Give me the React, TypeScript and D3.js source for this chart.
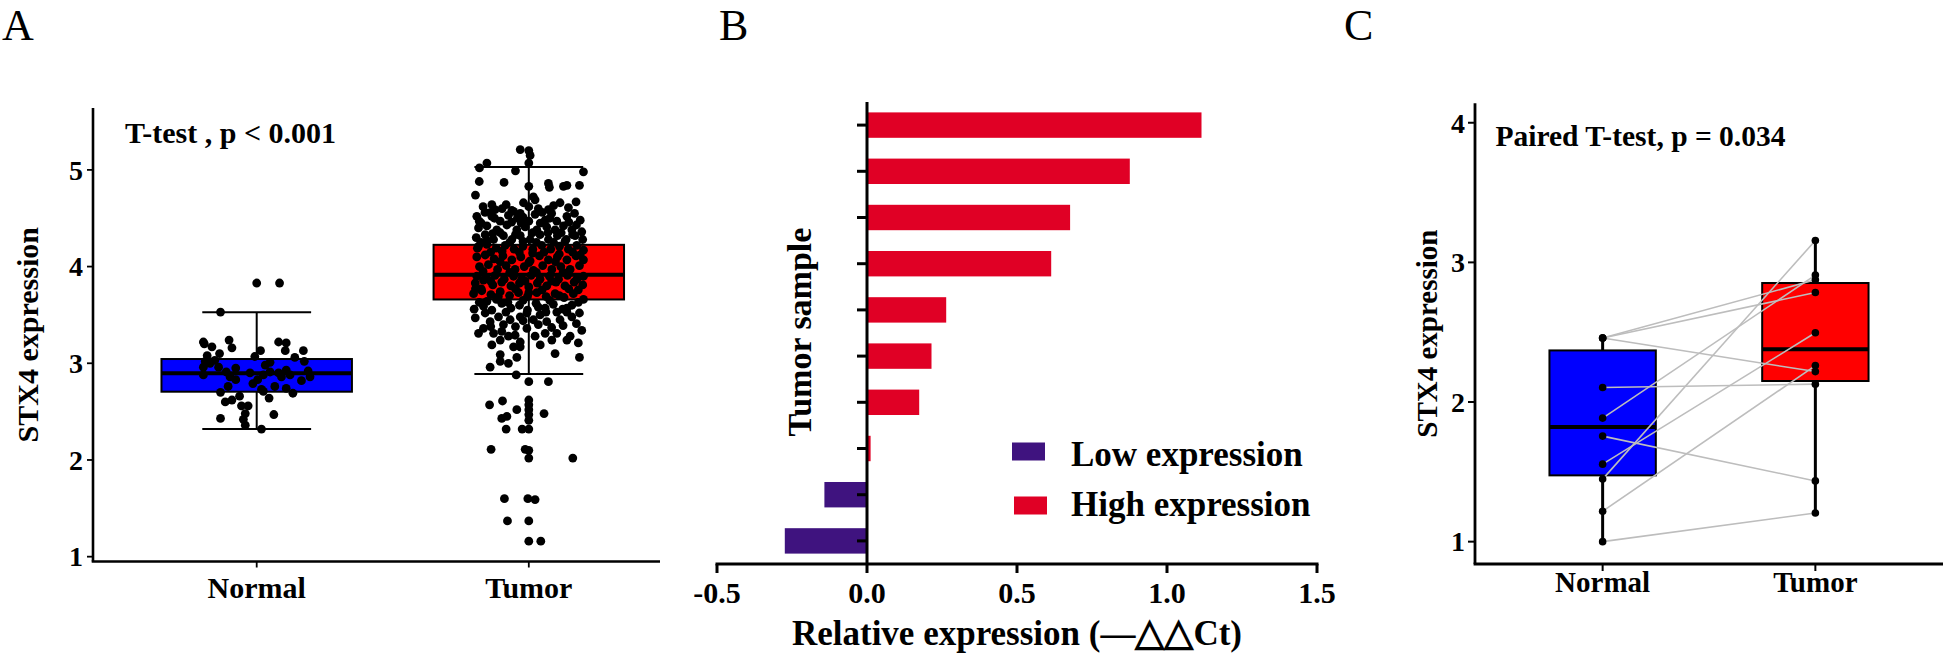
import React from 'react';
import * as d3 from 'd3';

const FONT = '"Liberation Serif", "Times New Roman", Times, serif';

// ---------------- Panel A data ----------------
const groupsA = ['Normal', 'Tumor'];
const ticksA = [1, 2, 3, 4, 5];
const whiskerLowA = [2.32, 2.89];
const q1A = [2.706, 3.66];
const medianA = [2.897, 3.915];
const q3A = [3.044, 4.225];
const whiskerHighA = [3.527, 5.03];
const boxColorsA = ['#0000ff', '#ff0000'];
// [jitter (fraction of box width), value]
const normalPointsA: [number, number][] = [
  [0, 3.83], [0.12, 3.83], [-0.19, 3.53], [-0.28, 3.22], [-0.275, 3.2], [-0.235, 3.17], [-0.145, 3.24],
  [-0.13, 3.16], [-0.195, 3.1], [-0.26, 3.08], [-0.27, 3.02], [-0.28, 2.96], [-0.28, 2.88], [-0.22, 3.03],
  [-0.2, 2.96], [-0.16, 2.91], [-0.11, 2.95], [-0.14, 2.86], [-0.035, 2.9], [-0.01, 3.07], [0.02, 3.13],
  [0.045, 2.98], [0.07, 3.01], [0.035, 2.88], [-0.02, 2.79], [-0.15, 2.76], [-0.19, 2.7], [-0.165, 2.6],
  [-0.13, 2.62], [-0.09, 2.66], [-0.08, 2.56], [-0.045, 2.56], [-0.06, 2.48], [-0.07, 2.42], [-0.06, 2.36],
  [0.025, 2.32], [-0.19, 2.43], [0.09, 2.47], [0.035, 2.71], [0.065, 2.64], [0.095, 2.76], [0.155, 2.74],
  [0.19, 2.69], [0.115, 3.22], [0.155, 3.21], [0.15, 3.13], [0.2, 3.06], [0.245, 3.13], [0.25, 3.02],
  [0.27, 2.92], [0.28, 2.86], [0.235, 2.82], [0.155, 2.93], [0.175, 2.88], [0.13, 2.86], [0.115, 2.9],
  [0.025, 2.73], [0.005, 2.83], [-0.245, 3.0], [-0.11, 2.83], [0.07, 2.91],
];
const tumorPointsA: [number, number][] = [
  [-0.045, 5.21], [0, 5.2], [0.007, 5.15], [0, 5.07], [-0.259, 5.02], [-0.22, 5.07], [-0.07, 4.99], [0.287, 4.98],
  [-0.26, 4.88], [-0.13, 4.87], [0, 4.83], [0.103, 4.86], [0.108, 4.82], [0.182, 4.83], [0.2, 4.84], [0.266, 4.84],
  [-0.28, 4.74], [0.024, 4.72], [0.033, 4.69],
  [-0.194, 4.64], [-0.177, 4.59], [-0.119, 4.64], [-0.089, 4.58], [-0.028, 4.66], [0.103, 4.59], [0.164, 4.66],
  [0.208, 4.61], [0.248, 4.67], [0.05, 4.6],
  [-0.273, 4.52], [-0.194, 4.52], [-0.107, 4.53], [-0.045, 4.55], [0.033, 4.54], [0.086, 4.48], [0.2, 4.52],
  [0.27, 4.48], [-0.15, 4.47], [0, 4.47], [0.147, 4.47],
  [-0.264, 4.4], [-0.22, 4.42], [-0.168, 4.38], [-0.115, 4.43], [-0.063, 4.38], [-0.019, 4.41], [0.042, 4.38],
  [0.094, 4.41], [0.138, 4.38], [0.182, 4.42], [0.226, 4.38], [0.278, 4.36],
  [-0.276, 4.3], [-0.229, 4.33], [-0.185, 4.28], [-0.133, 4.32], [-0.089, 4.28], [-0.045, 4.32], [0.007, 4.28],
  [0.059, 4.33], [0.103, 4.28], [0.15, 4.32], [0.196, 4.28], [0.243, 4.32], [0.283, 4.28],
  [-0.264, 4.21], [-0.22, 4.23], [-0.171, 4.19], [-0.124, 4.22], [-0.077, 4.18], [-0.031, 4.21], [0.021, 4.18],
  [0.068, 4.22], [0.115, 4.18], [0.161, 4.21], [0.208, 4.18], [0.252, 4.22], [0.287, 4.17],
  [-0.273, 4.1], [-0.229, 4.12], [-0.182, 4.08], [-0.136, 4.11], [-0.089, 4.07], [-0.042, 4.1], [0.007, 4.06],
  [0.056, 4.11], [0.103, 4.07], [0.15, 4.1], [0.2, 4.07], [0.248, 4.11], [0.287, 4.07],
  [-0.259, 4.0], [-0.212, 4.02], [-0.164, 3.97], [-0.119, 4.01], [-0.072, 3.97], [-0.024, 4.0], [0.024, 3.96],
  [0.073, 4.01], [0.121, 3.97], [0.168, 4.0], [0.217, 3.97], [0.266, 4.01],
  [-0.273, 3.9], [-0.224, 3.88], [-0.177, 3.91], [-0.129, 3.87], [-0.08, 3.9], [-0.037, 3.87], [0.012, 3.91],
  [0.059, 3.87], [0.108, 3.9], [0.156, 3.87], [0.203, 3.91], [0.252, 3.87], [0.287, 3.9],
  [-0.281, 3.83], [-0.238, 3.86], [-0.189, 3.81], [-0.142, 3.84], [-0.094, 3.8], [-0.049, 3.83], [0, 3.79],
  [0.045, 3.83], [0.094, 3.8], [0.143, 3.84], [0.19, 3.8], [0.238, 3.84], [0.283, 3.81],
  [-0.29, 3.72], [-0.247, 3.75], [-0.199, 3.71], [-0.15, 3.74], [-0.101, 3.7], [-0.054, 3.73], [-0.007, 3.69],
  [0.042, 3.73], [0.091, 3.69], [0.138, 3.72], [0.185, 3.68], [0.234, 3.72], [0.287, 3.66],
  [-0.287, 3.56], [-0.238, 3.59], [-0.194, 3.55], [-0.142, 3.62], [-0.094, 3.57], [-0.049, 3.6], [-0.007, 3.55],
  [0.038, 3.62], [0.086, 3.57], [0.129, 3.61], [0.178, 3.56], [0.226, 3.6], [0.266, 3.52],
  [-0.281, 3.47], [-0.229, 3.52], [-0.203, 3.43], [-0.159, 3.48], [-0.133, 3.4], [-0.098, 3.45], [-0.045, 3.48],
  [-0.01, 3.52], [0.024, 3.45], [0.059, 3.5], [0.094, 3.43], [0.147, 3.53], [0.164, 3.45], [0.2, 3.53], [0.226, 3.48],
  [-0.264, 3.31], [-0.238, 3.36], [-0.185, 3.31], [-0.142, 3.33], [-0.107, 3.28], [-0.072, 3.29], [-0.045, 3.22],
  [-0.01, 3.36], [0.033, 3.28], [0.086, 3.31], [0.121, 3.24], [0.147, 3.31], [0.2, 3.24], [0.217, 3.28],
  [0.278, 3.34], [0.26, 3.21],
  [-0.194, 3.19], [-0.15, 3.24], [-0.08, 3.17], [-0.045, 3.17], [-0.15, 3.09], [-0.063, 3.06], [-0.107, 3.0],
  [-0.15, 3.02], [0.138, 3.1], [0.266, 3.06], [0.06, 3.19],
  [-0.203, 2.96], [-0.066, 2.88], [0, 2.81], [0.103, 2.81],
  [-0.206, 2.57], [-0.138, 2.61], [-0.063, 2.52], [0, 2.62], [0, 2.57], [0, 2.52], [0, 2.47], [0, 2.41],
  [0.08, 2.48], [-0.142, 2.43], [-0.115, 2.45], [-0.119, 2.32], [-0.035, 2.32], [0, 2.32], [-0.198, 2.11],
  [-0.019, 2.11], [0, 2.1], [0, 2.02], [0.231, 2.02], [-0.128, 1.6], [-0.005, 1.6], [0.033, 1.59],
  [-0.112, 1.37], [0, 1.37], [0, 1.16], [0.063, 1.16],
  [-0.2, 4.56], [-0.06, 4.5], [0.12, 4.55], [-0.25, 4.45], [-0.04, 4.45], [0.21, 4.46], [-0.15, 4.35],
  [0.02, 4.35], [0.17, 4.35], [-0.25, 4.25], [-0.1, 4.25], [0.04, 4.25], [0.19, 4.26], [-0.2, 4.15],
  [-0.05, 4.15], [0.08, 4.15], [0.23, 4.15], [-0.15, 4.05], [0, 4.04], [0.14, 4.05], [-0.24, 3.95],
  [-0.1, 3.94], [0.04, 3.94], [0.18, 3.94], [-0.2, 3.85], [-0.02, 3.85], [0.12, 3.85], [-0.25, 3.77],
  [-0.07, 3.77], [0.07, 3.76], [0.21, 3.77], [-0.17, 3.66], [-0.03, 3.65], [0.11, 3.65], [-0.22, 3.64],
  [0.26, 3.63], [-0.12, 3.53], [0.09, 3.53], [-0.07, 3.38], [0.05, 3.4], [0.18, 3.39],
  [-0.24, 4.62], [-0.14, 4.6], [0.0, 4.62], [0.13, 4.63], [-0.23, 4.56], [-0.08, 4.57], [0.07, 4.56],
  [0.24, 4.55], [-0.18, 4.5], [-0.03, 4.51], [0.11, 4.5], [-0.26, 4.47], [-0.09, 4.46], [0.06, 4.45],
  [0.25, 4.43], [-0.19, 4.34], [-0.07, 4.33], [0.1, 4.35], [0.23, 4.33], [-0.22, 4.27], [-0.03, 4.26],
  [0.13, 4.25], [-0.27, 4.19], [-0.14, 4.16], [0.02, 4.14], [0.16, 4.13], [0.27, 4.12], [-0.28, 3.77],
  [-0.16, 3.69], [0.0, 3.73], [0.16, 3.7], [0.26, 3.76], [-0.26, 3.63], [-0.11, 3.63], [0.05, 3.58],
  [0.2, 3.57], [-0.2, 3.38], [-0.03, 3.44], [0.12, 3.37], [0.25, 3.41],
];

// ---------------- Panel B data ----------------
const samplesB = ['S1', 'S2', 'S3', 'S4', 'S5', 'S6', 'S7', 'S8', 'S9', 'S10'];
const valuesB = [1.115, 0.876, 0.677, 0.614, 0.264, 0.215, 0.174, 0.012, -0.142, -0.274];
const ticksB = [-0.5, 0, 0.5, 1.0, 1.5];
const tickLabelsB = ['-0.5', '0.0', '0.5', '1.0', '1.5'];
const legendB = ['Low expression', 'High expression'];
const colorsB = ['#3f137f', '#e00025'];

// ---------------- Panel C data ----------------
const groupsC = ['Normal', 'Tumor'];
const ticksC = [1, 2, 3, 4];
const normalC = [2.458, 2.458, 2.458, 2.104, 1.885, 1.756, 1.555, 1.448, 1.218, 1.0];
const tumorC = [2.875, 2.784, 2.218, 2.128, 2.909, 1.435, 2.496, 3.157, 2.261, 1.205];
const boxColorsC = ['#0000ff', '#ff0000'];

const W = 1946;
const H = 655;

function statsOf(vals: number[]) {
  const s = [...vals].sort((a, b) => a - b);
  return {
    min: s[0],
    q1: d3.quantile(s, 0.25)!,
    med: d3.quantile(s, 0.5)!,
    q3: d3.quantile(s, 0.75)!,
    max: s[s.length - 1],
  };
}

function PanelA() {
  const y = d3.scaleLinear().domain([0.95, 5.64]).range([561.5, 108]);
  const x = d3.scalePoint<string>().domain(groupsA).range([256.7, 528.8]);
  const step = 272.1;
  const boxW = step * 0.7;
  const capW = step * 0.4;
  const axisX = 93;
  const axisY = y(0.95);
  const ptsSets = [normalPointsA, tumorPointsA];
  return (
    <g>
      {groupsA.map((g, i) => {
        const cx = x(g)!;
        return (
          <g key={g}>
            <line x1={cx} x2={cx} y1={y(whiskerLowA[i])} y2={y(whiskerHighA[i])} stroke="#000" strokeWidth={2} />
            <line x1={cx - capW / 2} x2={cx + capW / 2} y1={y(whiskerLowA[i])} y2={y(whiskerLowA[i])} stroke="#000" strokeWidth={2} />
            <line x1={cx - capW / 2} x2={cx + capW / 2} y1={y(whiskerHighA[i])} y2={y(whiskerHighA[i])} stroke="#000" strokeWidth={2} />
            <rect x={cx - boxW / 2} width={boxW} y={y(q3A[i])} height={y(q1A[i]) - y(q3A[i])} fill={boxColorsA[i]} stroke="#000" strokeWidth={2} />
            <line x1={cx - boxW / 2} x2={cx + boxW / 2} y1={y(medianA[i])} y2={y(medianA[i])} stroke="#000" strokeWidth={4} />
          </g>
        );
      })}
      {ptsSets.map((pts, i) =>
        pts.map((p, k) => (
          <circle key={i + '-' + k} cx={x(groupsA[i])! + p[0] * boxW} cy={y(p[1])} r={4.4} fill="#000" />
        ))
      )}
      {/* axes */}
      <line x1={axisX} x2={axisX} y1={108} y2={axisY} stroke="#000" strokeWidth={2.6} />
      <line x1={axisX - 1.3} x2={660} y1={axisY} y2={axisY} stroke="#000" strokeWidth={2.6} />
      {ticksA.map((t) => (
        <g key={t}>
          <line x1={axisX - 6} x2={axisX} y1={y(t)} y2={y(t)} stroke="#000" strokeWidth={1.8} />
          <text x={axisX - 10} y={y(t)} dy="0.35em" textAnchor="end" fontSize={28} fontWeight="bold" fontFamily={FONT}>{t}</text>
        </g>
      ))}
      {groupsA.map((g) => (
        <g key={g}>
          <line x1={x(g)!} x2={x(g)!} y1={axisY} y2={axisY + 6} stroke="#000" strokeWidth={1.8} />
          <text x={x(g)!} y={598} textAnchor="middle" fontSize={30} fontWeight="bold" fontFamily={FONT}>{g}</text>
        </g>
      ))}
      <text transform={`translate(38,${(108 + axisY) / 2}) rotate(-90)`} textAnchor="middle" fontSize={30} fontWeight="bold" fontFamily={FONT}>STX4 expression</text>
      <text x={125} y={143} fontSize={30} fontWeight="bold" fontFamily={FONT}>T-test , p &lt; 0.001</text>
    </g>
  );
}

function PanelB() {
  const x = d3.scaleLinear().domain([-0.5, 1.5]).range([717, 1317]);
  const y = d3.scaleBand<string>().domain(samplesB).range([102, 564]).paddingInner(0.45).paddingOuter(0.225);
  const axisY = 564;
  const x0 = x(0);
  return (
    <g>
      {samplesB.map((s, i) => {
        const v = valuesB[i];
        const c = v < 0 ? colorsB[0] : colorsB[1];
        return (
          <rect key={s} x={Math.min(x(v), x0)} width={Math.abs(x(v) - x0)} y={y(s)!} height={y.bandwidth()} fill={c} />
        );
      })}
      <line x1={x0} x2={x0} y1={102} y2={axisY} stroke="#000" strokeWidth={3} />
      {samplesB.map((s) => (
        <line key={s} x1={x0 - 10} x2={x0} y1={y(s)! + y.bandwidth() / 2} y2={y(s)! + y.bandwidth() / 2} stroke="#000" strokeWidth={3} />
      ))}
      <line x1={x(-0.5) - 1.5} x2={x(1.5) + 1.5} y1={axisY} y2={axisY} stroke="#000" strokeWidth={3} />
      {ticksB.map((t, i) => (
        <g key={t}>
          <line x1={x(t)} x2={x(t)} y1={axisY} y2={axisY + 9} stroke="#000" strokeWidth={3} />
          <text x={x(t)} y={603} textAnchor="middle" fontSize={30} fontWeight="bold" fontFamily={FONT}>{tickLabelsB[i]}</text>
        </g>
      ))}
      <text x={(x(-0.5) + x(1.5)) / 2} y={645} textAnchor="middle" fontSize={35} fontWeight="bold" fontFamily={FONT}>
        Relative expression (—<tspan fontSize={38}>△△</tspan>Ct)
      </text>
      <text transform={`translate(811,332) rotate(-90)`} textAnchor="middle" fontSize={34} fontWeight="bold" fontFamily={FONT}>Tumor sample</text>
      {legendB.map((l, i) => (
        <g key={l}>
          <rect x={1012 + i * 2} y={442.5 + i * 54} width={33} height={18} fill={colorsB[i]} />
          <text x={1071} y={466 + i * 50} fontSize={35} fontWeight="bold" fontFamily={FONT}>{l}</text>
        </g>
      ))}
    </g>
  );
}

function PanelC() {
  const y = d3.scaleLinear().domain([0.84, 4.14]).range([564, 103.2]);
  const x = d3.scalePoint<string>().domain(groupsC).range([1475, 1943]).padding(0.6);
  const step = x.step();
  const boxW = step * 0.5;
  const axisX = 1475;
  const axisY = 564;
  const sets = [normalC, tumorC];
  return (
    <g>
      {groupsC.map((g, i) => {
        const st = statsOf(sets[i]);
        const cx = x(g)!;
        return (
          <g key={g}>
            <line x1={cx} x2={cx} y1={y(st.min)} y2={y(st.max)} stroke="#000" strokeWidth={3} />
            <rect x={cx - boxW / 2} width={boxW} y={y(st.q3)} height={y(st.q1) - y(st.q3)} fill={boxColorsC[i]} stroke="#000" strokeWidth={2} />
            <line x1={cx - boxW / 2} x2={cx + boxW / 2} y1={y(st.med)} y2={y(st.med)} stroke="#000" strokeWidth={4} />
          </g>
        );
      })}
      {normalC.map((v, i) => (
        <line key={'l' + i} x1={x('Normal')!} x2={x('Tumor')!} y1={y(v)} y2={y(tumorC[i])} stroke="#bdbdbd" strokeWidth={1.6} />
      ))}
      {sets.map((vals, gi) =>
        vals.map((v, i) => <circle key={gi + '-' + i} cx={x(groupsC[gi])!} cy={y(v)} r={3.8} fill="#000" />)
      )}
      <line x1={axisX} x2={axisX} y1={103.2} y2={axisY} stroke="#000" strokeWidth={2.8} />
      <line x1={axisX - 1.4} x2={1943} y1={axisY} y2={axisY} stroke="#000" strokeWidth={2.8} />
      {ticksC.map((t) => (
        <g key={t}>
          <line x1={axisX - 7} x2={axisX} y1={y(t)} y2={y(t)} stroke="#000" strokeWidth={2} />
          <text x={axisX - 10} y={y(t)} dy="0.35em" textAnchor="end" fontSize={28} fontWeight="bold" fontFamily={FONT}>{t}</text>
        </g>
      ))}
      {groupsC.map((g) => (
        <g key={g}>
          <line x1={x(g)!} x2={x(g)!} y1={axisY} y2={axisY + 7} stroke="#000" strokeWidth={2} />
          <text x={x(g)!} y={592} textAnchor="middle" fontSize={29} fontWeight="bold" fontFamily={FONT}>{g}</text>
        </g>
      ))}
      <text transform={`translate(1437,${(103.2 + axisY) / 2}) rotate(-90)`} textAnchor="middle" fontSize={29} fontWeight="bold" fontFamily={FONT}>STX4 expression</text>
      <text x={1495.5} y={146} fontSize={29.5} fontWeight="bold" fontFamily={FONT}>Paired T-test, p = 0.034</text>
    </g>
  );
}

export default function App() {
  return (
    <svg width={W} height={H} style={{ position: 'absolute', left: 0, top: 0, display: 'block', background: '#fff' }}>
      <rect width={W} height={H} fill="#fff" />
      <text x={2} y={40} fontSize={44} fontFamily={FONT}>A</text>
      <text x={719} y={40} fontSize={44} fontFamily={FONT}>B</text>
      <text x={1344} y={40} fontSize={44} fontFamily={FONT}>C</text>
      <PanelA />
      <PanelB />
      <PanelC />
    </svg>
  );
}
